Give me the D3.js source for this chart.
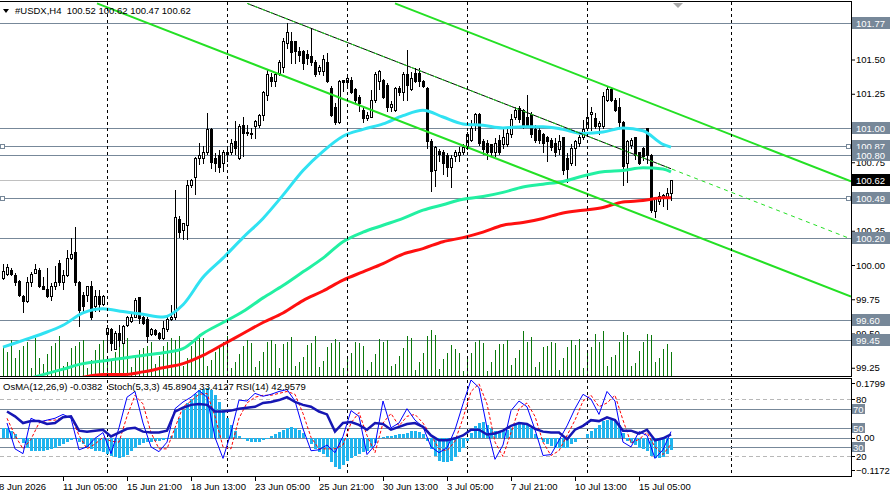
<!DOCTYPE html>
<html>
<head>
<meta charset="utf-8">
<script src="https://cdn.jsdelivr.net/npm/d3@7"></script>
<style>
  html, body { margin: 0; padding: 0; background: #fff; }
  svg { display: block; font-family: "Liberation Sans", Arial, sans-serif; font-size: 9.5px; }
  text { white-space: pre; }
</style>
</head>
<body>
<svg id="chart" width="890" height="499"></svg>
<script>
/* #USDX H4 — candles + MA + channel, OsMA / Stoch / RSI sub-window */

// ----- data -----
var candleOpen = [
  99.90, 99.93, 99.96, 99.92, 99.88, 99.77, 99.73, 99.87, 99.94, 99.96,
  99.84, 99.82, 99.77, 99.84, 100.01, 99.87, 99.92, 100.05, 100.09, 99.87,
  99.78, 99.78, 99.84, 99.70, 99.77, 99.71, 99.49, 99.53, 99.38, 99.50,
  99.43, 99.56, 99.59, 99.62, 99.76, 99.62, 99.60, 99.49, 99.52, 99.50,
  99.46, 99.53, 99.60, 99.62, 100.33, 100.25, 100.29, 100.58, 100.64, 100.78,
  100.78, 100.82, 100.99, 100.78, 100.80, 100.74, 100.81, 100.82, 100.90, 100.78,
  101.02, 100.97, 100.96, 101.01, 101.02, 101.09, 101.24, 101.37, 101.34, 101.40,
  101.44, 101.62, 101.63, 101.63, 101.56, 101.56, 101.54, 101.52, 101.48, 101.41,
  101.41, 101.48, 101.29, 101.15, 101.04, 101.35, 101.33, 101.35, 101.28, 101.22,
  101.13, 101.07, 101.08, 101.20, 101.34, 101.35, 101.31, 101.15, 101.13, 101.29,
  101.26, 101.39, 101.28, 101.40, 101.40, 101.34, 101.29, 100.90, 100.69, 100.83,
  100.82, 100.80, 100.71, 100.79, 100.80, 100.82, 100.85, 100.91, 101.02, 101.10,
  100.90, 100.89, 100.88, 100.82, 100.91, 100.88, 100.88, 100.95, 101.08, 101.14,
  101.13, 101.08, 101.10, 100.99, 100.98, 100.95, 100.93, 100.91, 100.89, 100.84,
  100.93, 100.78, 100.74, 100.85, 100.89, 100.93, 101.00, 101.10, 101.07, 101.01,
  101.01, 101.20, 101.28, 101.20, 101.15, 101.04, 100.74, 100.87, 100.93, 100.82,
  100.85, 101.00, 100.80, 100.39, 100.46, 100.49, 100.49, 100.52
];
var candleHigh = [
  100.01, 100.01, 99.98, 99.94, 99.89, 99.78, 99.91, 99.95, 100.01, 99.98,
  99.91, 99.98, 99.87, 99.99, 100.04, 99.96, 100.11, 100.20, 100.28, 99.88,
  99.80, 99.85, 99.88, 99.82, 99.82, 99.78, 99.56, 99.54, 99.52, 99.56,
  99.56, 99.63, 99.64, 99.76, 99.76, 99.63, 99.62, 99.54, 99.53, 99.51,
  99.59, 99.62, 99.71, 100.55, 100.36, 100.31, 100.62, 100.63, 100.79, 100.89,
  100.87, 101.11, 101.00, 100.82, 100.84, 100.84, 100.86, 100.92, 101.05, 101.03,
  101.08, 101.02, 101.00, 101.06, 101.10, 101.27, 101.42, 101.40, 101.41, 101.50,
  101.66, 101.77, 101.70, 101.63, 101.59, 101.57, 101.57, 101.73, 101.50, 101.46,
  101.53, 101.55, 101.31, 101.18, 101.35, 101.35, 101.37, 101.37, 101.29, 101.24,
  101.15, 101.12, 101.28, 101.41, 101.42, 101.36, 101.33, 101.20, 101.30, 101.31,
  101.41, 101.57, 101.41, 101.44, 101.44, 101.35, 101.30, 100.92, 100.87, 100.85,
  100.84, 100.82, 100.80, 100.84, 100.86, 100.88, 100.97, 101.06, 101.11, 101.11,
  100.92, 100.91, 100.88, 100.93, 100.95, 100.99, 101.01, 101.10, 101.15, 101.16,
  101.14, 101.24, 101.12, 101.02, 101.00, 100.96, 100.94, 100.93, 100.93, 100.95,
  100.93, 100.82, 100.88, 100.91, 100.95, 101.06, 101.20, 101.15, 101.11, 101.05,
  101.26, 101.30, 101.29, 101.22, 101.22, 101.05, 100.91, 100.93, 100.93, 100.82,
  100.86, 101.00, 100.81, 100.50, 100.53, 100.52, 100.56, 100.62
];
var candleLow = [
  99.89, 99.92, 99.92, 99.85, 99.77, 99.65, 99.72, 99.84, 99.94, 99.83,
  99.82, 99.76, 99.74, 99.82, 99.85, 99.82, 99.91, 100.04, 99.85, 99.55,
  99.66, 99.73, 99.60, 99.66, 99.66, 99.70, 99.38, 99.37, 99.38, 99.40,
  99.43, 99.55, 99.58, 99.61, 99.57, 99.56, 99.43, 99.48, 99.48, 99.45,
  99.45, 99.51, 99.59, 99.60, 100.20, 100.18, 100.18, 100.56, 100.51, 100.73,
  100.74, 100.80, 100.70, 100.68, 100.67, 100.68, 100.75, 100.80, 100.80, 100.77,
  100.79, 100.94, 100.92, 100.92, 101.00, 101.05, 101.20, 101.30, 101.30, 101.38,
  101.40, 101.58, 101.47, 101.47, 101.48, 101.42, 101.46, 101.45, 101.37, 101.39,
  101.38, 101.33, 101.08, 101.02, 101.03, 101.26, 101.30, 101.25, 101.18, 101.12,
  101.04, 101.05, 101.07, 101.18, 101.28, 101.21, 101.12, 101.12, 101.12, 101.23,
  101.20, 101.20, 101.27, 101.33, 101.30, 101.29, 100.85, 100.53, 100.57, 100.75,
  100.66, 100.64, 100.56, 100.75, 100.75, 100.80, 100.84, 100.90, 100.98, 100.87,
  100.80, 100.77, 100.79, 100.79, 100.80, 100.85, 100.86, 100.93, 101.06, 101.04,
  100.99, 101.00, 100.93, 100.89, 100.88, 100.82, 100.75, 100.83, 100.79, 100.80,
  100.66, 100.60, 100.72, 100.72, 100.86, 100.91, 100.98, 100.98, 100.99, 100.95,
  100.99, 101.19, 101.19, 101.12, 101.00, 100.58, 100.60, 100.85, 100.77, 100.73,
  100.76, 100.74, 100.38, 100.34, 100.44, 100.42, 100.40, 100.47
];
var candleClose = [
  99.95, 99.98, 99.93, 99.87, 99.78, 99.73, 99.87, 99.93, 99.97, 99.84,
  99.82, 99.77, 99.84, 99.87, 99.87, 99.92, 100.05, 100.08, 99.87, 99.67,
  99.70, 99.84, 99.62, 99.77, 99.71, 99.77, 99.54, 99.43, 99.50, 99.45,
  99.55, 99.62, 99.62, 99.74, 99.61, 99.57, 99.48, 99.53, 99.49, 99.46,
  99.54, 99.60, 99.62, 100.35, 100.24, 100.30, 100.58, 100.62, 100.78, 100.80,
  100.82, 100.99, 100.75, 100.74, 100.71, 100.82, 100.82, 100.89, 100.85, 101.01,
  100.96, 100.96, 100.95, 101.05, 101.09, 101.26, 101.39, 101.34, 101.39, 101.48,
  101.63, 101.70, 101.55, 101.56, 101.53, 101.47, 101.51, 101.48, 101.39, 101.44,
  101.50, 101.34, 101.09, 101.04, 101.34, 101.33, 101.36, 101.26, 101.20, 101.18,
  101.07, 101.09, 101.20, 101.39, 101.41, 101.22, 101.15, 101.17, 101.29, 101.26,
  101.39, 101.31, 101.36, 101.34, 101.34, 101.30, 100.90, 100.68, 100.86, 100.81,
  100.74, 100.71, 100.78, 100.82, 100.82, 100.86, 100.95, 101.00, 101.10, 100.89,
  100.84, 100.82, 100.82, 100.89, 100.82, 100.93, 100.96, 101.06, 101.13, 101.06,
  101.01, 101.02, 100.95, 100.91, 100.91, 100.89, 100.90, 100.86, 100.82, 100.90,
  100.69, 100.70, 100.85, 100.90, 100.93, 100.99, 101.08, 101.11, 101.01, 101.03,
  101.23, 101.28, 101.20, 101.13, 101.04, 100.72, 100.90, 100.91, 100.80, 100.74,
  100.79, 100.80, 100.40, 100.49, 100.50, 100.51, 100.52, 100.62
];
var volume = [
  30, 24, 36, 18, 26, 30, 34, 8, 38, 18,
  12, 22, 30, 33, 40, 10, 14, 28, 30, 34,
  36, 8, 16, 26, 32, 36, 20, 15, 24, 35,
  32, 38, 9, 18, 26, 28, 30, 34, 12, 20,
  30, 34, 38, 36, 40, 10, 18, 30, 36, 42,
  38, 10, 16, 24, 30, 34, 40, 8, 14, 22,
  30, 36, 33, 9, 15, 24, 34, 36, 32, 8,
  32, 34, 39, 10, 14, 19, 31, 33, 40, 9,
  15, 29, 33, 37, 34, 8, 19, 23, 34, 33,
  30, 6, 14, 22, 37, 34, 36, 10, 12, 20,
  28, 40, 38, 6, 14, 23, 40, 46, 41, 7,
  17, 23, 31, 27, 23, 5, 19, 23, 34, 36,
  33, 5, 14, 26, 32, 32, 36, 11, 18, 26,
  45, 34, 39, 9, 14, 29, 30, 34, 33, 6,
  18, 29, 36, 31, 37, 8, 26, 29, 42, 34,
  45, 10, 19, 21, 34, 44, 41, 10, 13, 25,
  34, 42, 41, 14, 18, 27, 32, 24
];

// moving averages, sampled along the candle index
var maIdx = [0, 5, 10, 15, 20, 25, 30, 35, 40, 45, 50, 55, 60, 65, 70, 75, 80, 85,
  90, 95, 100, 105, 110, 115, 120, 125, 130, 135, 140, 145, 150, 155, 160, 165, 167];
var maFast = [99.40, 99.45, 99.50, 99.56, 99.65, 99.68, 99.66, 99.64, 99.62, 99.71,
  99.91, 100.05, 100.20, 100.34, 100.51, 100.69, 100.83, 100.94, 100.99, 101.03,
  101.09, 101.13, 101.08, 101.03, 101.02, 101.00, 101.01, 101.01, 100.99, 100.96,
  100.97, 101.00, 100.98, 100.88, 100.86];
var maMid = [99.12, 99.16, 99.20, 99.24, 99.28, 99.30, 99.32, 99.34, 99.36, 99.39,
  99.50, 99.58, 99.66, 99.76, 99.85, 99.95, 100.05, 100.17, 100.24, 100.29,
  100.34, 100.40, 100.44, 100.48, 100.50, 100.53, 100.57, 100.59, 100.61, 100.65,
  100.68, 100.69, 100.71, 100.70, 100.68];
var maSlow = [99.07, 99.10, 99.12, 99.15, 99.18, 99.20, 99.20, 99.22, 99.25, 99.28,
  99.34, 99.42, 99.50, 99.58, 99.65, 99.74, 99.81, 99.89, 99.95, 100.01,
  100.08, 100.12, 100.17, 100.20, 100.24, 100.29, 100.31, 100.34, 100.38, 100.40,
  100.42, 100.46, 100.47, 100.49, 100.49];

// trend lines: [candle index, price]
var channelLower = [[23.5, 101.91], [212, 99.77]];
var channelUpper = [[98, 101.91], [212, 100.61]];
var resistLine = [[61, 101.91], [212, 100.19]];
var resistEnd = 167;

// horizontal levels
var levelBoxes = [101.77, 101.00, 100.87, 100.80, 100.49, 100.20, 99.60, 99.45];
var levelAnchored = [100.87, 100.49];
var lastPrice = 100.62;
var priceTicks = [101.50, 101.25, 100.75, 100.25, 100.00, 99.75, 99.50, 99.25];

// sub-window: OsMA histogram per candle, Stoch & RSI every 2nd candle
var osma = [
  0.030, 0.030, 0.020, 0.010, -0.005, -0.015, -0.030, -0.040, -0.042, -0.040,
  -0.040, -0.037, -0.035, -0.030, -0.025, -0.020, -0.012, -0.008, -0.005, -0.012,
  -0.020, -0.028, -0.035, -0.040, -0.042, -0.045, -0.050, -0.055, -0.060, -0.062,
  -0.060, -0.052, -0.040, -0.030, -0.022, -0.015, -0.012, -0.012, -0.010, -0.010,
  -0.008, -0.005, 0.005, 0.030, 0.060, 0.085, 0.105, 0.120, 0.135, 0.145,
  0.150, 0.152, 0.145, 0.130, 0.110, 0.085, 0.060, 0.040, 0.020, 0.005,
  -0.005, -0.010, -0.012, -0.012, -0.012, -0.008, -0.003, 0.005, 0.012, 0.018,
  0.025, 0.030, 0.033, 0.030, 0.025, 0.015, -0.005, -0.020, -0.035, -0.045,
  -0.050, -0.060, -0.075, -0.090, -0.097, -0.085, -0.070, -0.062, -0.055, -0.050,
  -0.045, -0.040, -0.030, -0.015, -0.005, 0.002, 0.005, 0.005, 0.008, 0.010,
  0.012, 0.015, 0.020, 0.020, 0.018, 0.012, -0.010, -0.035, -0.055, -0.070,
  -0.075, -0.075, -0.070, -0.060, -0.045, -0.030, -0.010, 0.015, 0.035, 0.045,
  0.048, 0.040, 0.030, 0.022, 0.018, 0.020, 0.025, 0.030, 0.040, 0.045,
  0.045, 0.040, 0.030, 0.012, -0.005, -0.012, -0.020, -0.025, -0.030, -0.032,
  -0.030, -0.030, -0.020, -0.012, -0.005, -0.002, 0.010, 0.020, 0.030, 0.040,
  0.050, 0.055, 0.055, 0.050, 0.040, 0.015, -0.010, -0.015, -0.022, -0.030,
  -0.035, -0.040, -0.055, -0.062, -0.062, -0.058, -0.050, -0.038
];
var stochMain = [55, 28, 23, 60, 56, 58, 60, 64, 60, 27, 30, 39, 45, 23, 50, 82, 88, 55, 30, 25,
  35, 70, 77, 82, 89, 82, 40, 18, 45, 79, 78, 86, 83, 85, 88, 90, 78, 49, 26, 27,
  32, 24, 41, 68, 62, 22, 32, 78, 50, 55, 70, 58, 51, 30, 24, 29, 48, 75, 100, 92,
  50, 17, 32, 68, 78, 72, 48, 21, 22, 37, 52, 70, 85, 80, 64, 88, 78, 35, 30, 46,
  42, 18, 27, 46];
var stochSignal = [60, 42, 28, 38, 55, 58, 58, 61, 62, 42, 28, 33, 40, 36, 35, 62, 84, 75, 45, 28,
  28, 50, 72, 78, 85, 86, 62, 30, 28, 60, 76, 82, 84, 84, 86, 88, 85, 65, 40, 28,
  28, 28, 32, 55, 66, 42, 24, 55, 65, 52, 62, 64, 55, 42, 28, 26, 36, 60, 88, 96,
  75, 35, 20, 45, 70, 76, 62, 35, 21, 26, 42, 58, 78, 84, 72, 76, 84, 58, 34, 38,
  45, 30, 22, 33];
var rsi = [67, 62, 55, 57, 57, 54, 55, 61, 62, 47, 46, 47, 48, 41, 45, 49, 50, 46, 45, 45,
  47, 67, 71, 74, 75, 74, 67, 67, 68, 70, 71, 72, 76, 77, 79, 82, 77, 74, 72, 67,
  64, 46, 55, 56, 53, 48, 55, 54, 48, 51, 54, 55, 51, 42, 37, 37, 39, 42, 48, 48,
  43, 44, 47, 52, 55, 54, 49, 46, 45, 45, 38, 48, 52, 58, 57, 61, 58, 47, 47, 44,
  48, 37, 39, 43];
var oscLevelsSolid = [70, 50, 30];
var oscLevelsDash = [80, 20];

// time axis: [candle index, label]; dashed separators by candle index
var timeLabels = [[-1, '8 Jun 2026'], [15, '11 Jun 05:00'], [31, '15 Jun 21:00'], [47, '18 Jun 13:00'],
  [63, '23 Jun 05:00'], [79, '25 Jun 21:00'], [95, '30 Jun 13:00'], [111, '3 Jul 05:00'],
  [127, '7 Jul 21:00'], [143, '10 Jul 13:00'], [159, '15 Jul 05:00']];
var gridIdx = [26, 56, 86, 116, 146, 182];

// ----- layout -----
var RIGHT = 851, MT = 2, MB = 376, IT = 379, IB = 476;
var SLATE = '#778899';

var svg = d3.select('#chart');
var x = d3.scaleLinear().domain([0, 212]).range([3, 851]);
var y = d3.scaleLinear().domain([100, 101]).range([265, 128]);
var yVol = d3.scaleLinear().domain([0, 50]).range([MB, MB - 50]);
var yOsc = d3.scaleLinear().domain([0, 100]).range([475.6, 380]);
var yOsma = d3.scaleLinear().domain([-0.1172, 0.1799]).range([IB, IT]);
var oscIdx = stochMain.map(function (d, k) { return 2 * k + 1; });
function px(v) { return Math.round(v) + 0.5; }

var defs = svg.append('defs');
defs.append('clipPath').attr('id', 'clipMain').append('rect')
  .attr('x', 0).attr('y', MT).attr('width', RIGHT).attr('height', MB - MT);
defs.append('clipPath').attr('id', 'clipInd').append('rect')
  .attr('x', 0).attr('y', IT).attr('width', RIGHT).attr('height', IB - IT);

// ----- main window -----
var gMain = svg.append('g').attr('clip-path', 'url(#clipMain)');

// period separators (both windows)
gridIdx.forEach(function (i) {
  svg.append('line').attr('x1', px(x(i))).attr('x2', px(x(i)))
    .attr('y1', MT).attr('y2', IB)
    .attr('stroke', '#000').attr('stroke-dasharray', '3,3');
});

// horizontal levels
gMain.selectAll('line.level').data(levelBoxes).enter().append('line').attr('class', 'level')
  .attr('x1', 0).attr('x2', RIGHT)
  .attr('y1', function (d) { return px(y(d)); }).attr('y2', function (d) { return px(y(d)); })
  .attr('stroke', SLATE);
gMain.append('line').attr('x1', 0).attr('x2', RIGHT)
  .attr('y1', px(y(lastPrice))).attr('y2', px(y(lastPrice))).attr('stroke', '#c0c0c0');

// volumes
gMain.selectAll('line.vol').data(volume).enter().append('line').attr('class', 'vol')
  .attr('x1', function (d, i) { return x(i) + 0.5; }).attr('x2', function (d, i) { return x(i) + 0.5; })
  .attr('y1', MB).attr('y2', function (d) { return yVol(d); })
  .attr('stroke', '#0b780b');

// candles
var gC = gMain.append('g').attr('shape-rendering', 'crispEdges');
candleOpen.forEach(function (o, i) {
  var c = candleClose[i], cx = x(i);
  gC.append('line').attr('x1', cx + 0.5).attr('x2', cx + 0.5)
    .attr('y1', y(candleHigh[i])).attr('y2', y(candleLow[i])).attr('stroke', '#000');
  var top = y(Math.max(o, c)), bot = y(Math.min(o, c));
  gC.append('rect').attr('x', cx - 0.5).attr('width', 2)
    .attr('y', top).attr('height', Math.max(0.5, bot - top))
    .attr('fill', c >= o ? '#fff' : '#000').attr('stroke', '#000');
});

// moving averages
function maLine(vals) {
  return d3.line().curve(d3.curveMonotoneX)
    .x(function (d, k) { return x(maIdx[k]); }).y(function (d) { return y(d); })(vals);
}
gMain.append('path').attr('d', maLine(maSlow)).attr('fill', 'none').attr('stroke', '#ff1010').attr('stroke-width', 3);
gMain.append('path').attr('d', maLine(maMid)).attr('fill', 'none').attr('stroke', '#22f0a2').attr('stroke-width', 3);
gMain.append('path').attr('d', maLine(maFast)).attr('fill', 'none').attr('stroke', '#30e2f2').attr('stroke-width', 3);

// trend lines
var tl = d3.line().x(function (d) { return x(d[0]); }).y(function (d) { return y(d[1]); });
[channelLower, channelUpper].forEach(function (ln) {
  gMain.append('path').attr('d', tl(ln)).attr('fill', 'none').attr('stroke', '#24e024').attr('stroke-width', 2);
});
var rSlope = (resistLine[1][1] - resistLine[0][1]) / (resistLine[1][0] - resistLine[0][0]);
gMain.append('path').attr('d', tl([resistLine[0], [resistEnd, resistLine[0][1] + rSlope * (resistEnd - resistLine[0][0])]]))
  .attr('fill', 'none').attr('stroke', '#000').attr('stroke-width', 1);
gMain.append('path').attr('d', tl(resistLine))
  .attr('fill', 'none').attr('stroke', '#24e024').attr('stroke-width', 1).attr('stroke-dasharray', '4,4');

// anchors of the two MA levels
levelAnchored.forEach(function (v) {
  [0, RIGHT - 5].forEach(function (ax) {
    svg.append('rect').attr('x', ax + 0.5).attr('y', Math.round(y(v)) - 2 + 0.5).attr('width', 4).attr('height', 4)
      .attr('fill', '#fff').attr('stroke', SLATE);
  });
});

// shift marker
svg.append('path').attr('d', 'M673,3L683,3L678,8Z').attr('fill', '#a8a8a8');

// header
svg.append('path').attr('d', 'M3,9L9,9L6,13Z').attr('fill', '#000');
svg.append('text').attr('x', 15).attr('y', 14).text('#USDX,H4  100.52 100.62 100.47 100.62');

// ----- price axis -----
var gAx = svg.append('g').attr('transform', 'translate(' + RIGHT + ',0)')
  .call(d3.axisRight(y).tickValues(priceTicks).tickSize(4).tickPadding(1).tickFormat(d3.format('.2f')));
gAx.select('.domain').remove();
gAx.selectAll('text').attr('font-family', '"Liberation Sans", Arial, sans-serif').attr('font-size', '9.5px').attr('fill', '#000');
gAx.selectAll('line').attr('stroke', '#000');

levelBoxes.forEach(function (v) {
  var yy = Math.round(y(v));
  svg.append('rect').attr('x', RIGHT + 1).attr('y', yy - 6).attr('width', 38).attr('height', 12).attr('fill', SLATE);
  svg.append('text').attr('x', RIGHT + 5).attr('y', yy + 3.5).attr('fill', '#fff').text(v.toFixed(2));
});
(function () {
  var yy = Math.round(y(lastPrice));
  svg.append('rect').attr('x', RIGHT + 1).attr('y', yy - 6).attr('width', 38).attr('height', 12).attr('fill', '#000');
  svg.append('text').attr('x', RIGHT + 5).attr('y', yy + 3.5).attr('fill', '#fff').text(lastPrice.toFixed(2));
})();

// ----- indicator window -----
var gInd = svg.append('g').attr('clip-path', 'url(#clipInd)');
oscLevelsDash.forEach(function (v) {
  gInd.append('line').attr('x1', 0).attr('x2', RIGHT).attr('y1', px(yOsc(v))).attr('y2', px(yOsc(v)))
    .attr('stroke', '#b8b8b8').attr('stroke-dasharray', '4,3');
});
oscLevelsSolid.forEach(function (v) {
  gInd.append('line').attr('x1', 0).attr('x2', RIGHT).attr('y1', px(yOsc(v))).attr('y2', px(yOsc(v))).attr('stroke', SLATE);
});
gInd.append('line').attr('x1', 0).attr('x2', RIGHT).attr('y1', px(yOsma(0))).attr('y2', px(yOsma(0))).attr('stroke', SLATE);

gInd.append('g').attr('shape-rendering', 'crispEdges').selectAll('rect').data(osma).enter().append('rect')
  .attr('x', function (d, i) { return x(i) - 1; }).attr('width', 3)
  .attr('y', function (d) { return Math.min(yOsma(d), yOsma(0)); })
  .attr('height', function (d) { return Math.abs(yOsma(d) - yOsma(0)); })
  .attr('fill', '#1fb4ee');

var oscLine = d3.line().x(function (d, k) { return x(oscIdx[k]); }).y(function (d) { return yOsc(d); });
gInd.append('path').attr('d', oscLine(stochSignal)).attr('fill', 'none').attr('stroke', '#ff0000').attr('stroke-dasharray', '3,2');
gInd.append('path').attr('d', oscLine(stochMain)).attr('fill', 'none').attr('stroke', '#0000ff');
gInd.append('path').attr('d', oscLine(rsi)).attr('fill', 'none').attr('stroke', '#1616b4').attr('stroke-width', 2.5);

svg.append('text').attr('x', 3).attr('y', 390).text('OsMA(12,26,9) -0.0382');
svg.append('text').attr('x', 108).attr('y', 390).text('Stoch(5,3,3) 45.8904 33.4127');
svg.append('text').attr('x', 236).attr('y', 390).text('RSI(14) 42.9579');

// indicator scale
[[0.1799, 'osma'], [-0.1172, 'osma'], [0, 'osma'], [80, 'osc'], [20, 'osc']].forEach(function (d) {
  var yy = d[1] === 'osma' ? yOsma(d[0]) : yOsc(d[0]);
  if (d[0] === 0.1799) yy += 4;
  if (d[0] === -0.1172) yy -= 6;
  svg.append('line').attr('x1', RIGHT).attr('x2', RIGHT + 4).attr('y1', px(yy)).attr('y2', px(yy)).attr('stroke', '#000');
  svg.append('text').attr('x', RIGHT + 5).attr('y', yy + 3.5)
    .text(d[1] === 'osma' ? d3.format('.4~f')(d[0]).replace(/^0$/, '0.00') : d[0]);
});
oscLevelsSolid.forEach(function (v) {
  var yy = Math.round(yOsc(v));
  svg.append('rect').attr('x', RIGHT + 1).attr('y', yy - 5).attr('width', 13).attr('height', 10).attr('fill', SLATE);
  svg.append('text').attr('x', RIGHT + 2).attr('y', yy + 3.5).attr('fill', '#fff').text(v);
});

// ----- frames -----
var frame = svg.append('g').attr('stroke', '#000').attr('shape-rendering', 'crispEdges');
frame.append('line').attr('x1', 0).attr('x2', RIGHT + 1).attr('y1', MT - 0.5).attr('y2', MT - 0.5);
frame.append('line').attr('x1', 0).attr('x2', RIGHT + 1).attr('y1', MB + 0.5).attr('y2', MB + 0.5);
frame.append('line').attr('x1', 0).attr('x2', RIGHT + 1).attr('y1', IT - 0.5).attr('y2', IT - 0.5);
frame.append('line').attr('x1', 0).attr('x2', RIGHT + 1).attr('y1', IB + 0.5).attr('y2', IB + 0.5);
frame.append('line').attr('x1', RIGHT + 0.5).attr('x2', RIGHT + 0.5).attr('y1', MT - 1).attr('y2', MB + 1);
frame.append('line').attr('x1', RIGHT + 0.5).attr('x2', RIGHT + 0.5).attr('y1', IT - 1).attr('y2', IB + 1);

// ----- time axis -----
timeLabels.forEach(function (d) {
  var tx = x(d[0]);
  svg.append('line').attr('x1', px(tx)).attr('x2', px(tx)).attr('y1', IB + 1).attr('y2', IB + 5).attr('stroke', '#000');
  svg.append('text').attr('x', tx).attr('y', 490).text(d[1]);
});
</script>
</body>
</html>
